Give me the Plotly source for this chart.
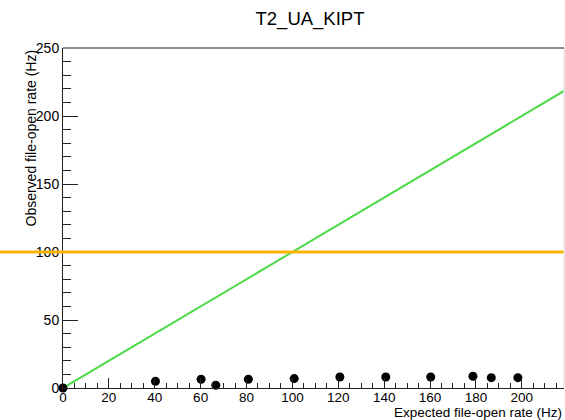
import plotly.graph_objects as go

# Measured file-open rates per test step
expected_hz = [0, 40.3, 60.2, 66.6, 80.8, 100.8, 120.7, 140.7, 160.3, 178.7, 186.7, 198.3]
observed_hz = [0, 4.9, 6.4, 2.0, 6.4, 6.9, 8.1, 8.1, 8.1, 8.6, 7.6, 7.6]

# Axis extents and reference levels
x_max = 218.4
y_max = 250
target_rate = 100

x_ticks = list(range(0, 201, 20))
y_ticks = list(range(0, 251, 50))

FONT = "Liberation Sans, Arial, Helvetica, sans-serif"
AXIS_COLOR = "#222222"

fig = go.Figure()

# Ideal response: observed == expected
fig.add_trace(go.Scatter(
    x=[0, x_max], y=[0, x_max],
    mode="lines",
    line=dict(color="#4ed94a", width=2),
    hoverinfo="skip",
    showlegend=False,
))

# Measurements
fig.add_trace(go.Scatter(
    x=expected_hz, y=observed_hz,
    mode="markers",
    marker=dict(color="black", size=9),
    cliponaxis=False,
    showlegend=False,
))

# Horizontal reference at the target rate, running across the whole canvas
fig.add_shape(
    type="line", xref="paper", yref="y",
    x0=-63 / 501, x1=1, y0=target_rate, y1=target_rate,
    line=dict(color="#fcb400", width=3),
    layer="above",
)

# Faint right-hand frame edge
fig.add_shape(
    type="line", xref="paper", yref="paper",
    x0=1, x1=1, y0=0, y1=1,
    line=dict(color="#d8d8d8", width=1),
)

fig.update_xaxes(
    range=[0, x_max],
    tickmode="array", tickvals=x_ticks, ticktext=[str(v) for v in x_ticks],
    ticks="inside", ticklen=10, tickwidth=1, tickcolor=AXIS_COLOR,
    minor=dict(ticks="inside", ticklen=5, dtick=5, tick0=0, tickcolor=AXIS_COLOR),
    showline=True, linecolor=AXIS_COLOR, linewidth=1,
    mirror=False,
    showgrid=False, zeroline=False,
    ticklabelstandoff=-3,
    tickfont=dict(family=FONT, size=13.5, color="black"),
)
fig.update_yaxes(
    range=[0, y_max],
    tickmode="array", tickvals=y_ticks, ticktext=[str(v) for v in y_ticks],
    ticks="inside", ticklen=15, tickwidth=1, tickcolor=AXIS_COLOR,
    minor=dict(ticks="inside", ticklen=8, dtick=10, tick0=0, tickcolor=AXIS_COLOR),
    showline=True, linecolor=AXIS_COLOR, linewidth=1,
    showgrid=False, zeroline=False,
    tickfont=dict(family=FONT, size=14, color="black"),
)

# Top frame edge
fig.add_shape(
    type="line", xref="paper", yref="paper",
    x0=0, x1=1, y0=1, y1=1,
    line=dict(color="#666666", width=1.5),
)

fig.add_annotation(
    text="Observed file-open rate (Hz)",
    xref="paper", yref="paper",
    x=-33 / 501, y=1.0,
    xanchor="center", yanchor="top",
    textangle=-90, showarrow=False,
    font=dict(family=FONT, size=14, color="black"),
)
fig.add_annotation(
    text="Expected file-open rate (Hz)",
    xref="paper", yref="paper",
    x=1.0, y=-15 / 340,
    xanchor="right", yanchor="top",
    showarrow=False,
    font=dict(family=FONT, size=13.5, color="black"),
)

fig.update_layout(
    width=565, height=420,
    margin=dict(l=63, r=1, t=48, b=32),
    paper_bgcolor="white", plot_bgcolor="white",
    title=dict(
        text="T2_UA_KIPT",
        x=310 / 565, xref="container", xanchor="center",
        y=1 - 19 / 420, yref="container", yanchor="middle",
        font=dict(family=FONT, size=18.5, color="black"),
    ),
    showlegend=False,
)

fig.write_html("out.html")
